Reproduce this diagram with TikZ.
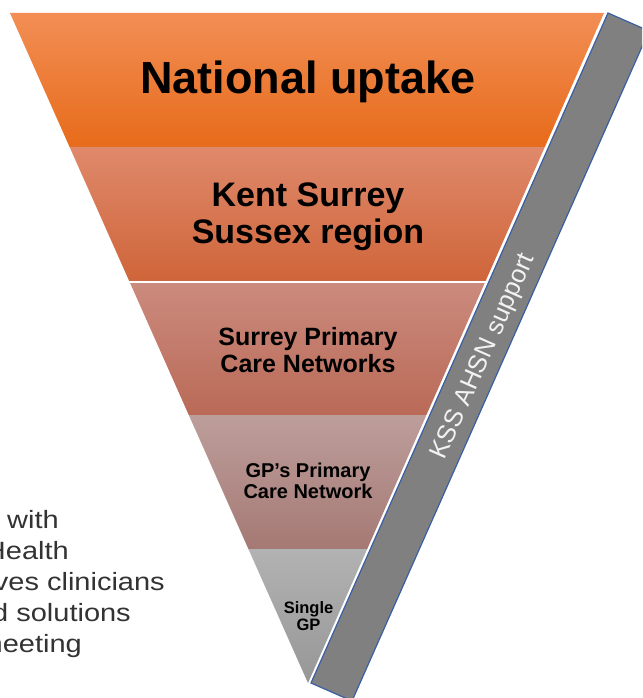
\documentclass[tikz,border=0pt]{standalone}
\usepackage{fontspec}
\setmainfont{Liberation Sans}
\usetikzlibrary{calc}
\definecolor{bOneT}{HTML}{F28E55}
\definecolor{bOneB}{HTML}{E76B1A}
\definecolor{bTwoT}{HTML}{DF896B}
\definecolor{bTwoB}{HTML}{CF653A}
\definecolor{bThrT}{HTML}{CB8B7E}
\definecolor{bThrB}{HTML}{BA6A57}
\definecolor{bFouT}{HTML}{BD9E9B}
\definecolor{bFouB}{HTML}{A57974}
\definecolor{bFivT}{HTML}{B2B2B2}
\definecolor{bFivB}{HTML}{979797}
\definecolor{barfill}{HTML}{808080}
\definecolor{barline}{HTML}{3A5FA2}
\definecolor{sidetext}{HTML}{333333}
\tikzset{
  lvl/.style={font=\bfseries, text=black, align=center, inner sep=0pt},
  sidetxt/.style={anchor=base east, inner sep=0pt, text=sidetext, font=\fontsize{25}{30}\selectfont},
}
\newcommand{\sidewide}[1]{\scalebox{1.16}[1]{#1}}
\begin{document}
\begin{tikzpicture}[x=1pt,y=-1pt]
\clip (0,0) rectangle (642,698);
\fill[white] (0,0) rectangle (642,698);
\coordinate (TL) at (10,13);
\coordinate (TR) at (604,13);
\coordinate (TIP) at (308,683);
\foreach \i/\t in {1/0.2,2/0.4,3/0.6,4/0.8}{
  \coordinate (L\i) at ($(TL)!\t!(TIP)$);
  \coordinate (R\i) at ($(TR)!\t!(TIP)$);
}
% bands
\shade[top color=bOneT, bottom color=bOneB] (TL) -- (TR) -- (R1) -- (L1) -- cycle;
\shade[top color=bTwoT, bottom color=bTwoB] (L1) -- (R1) -- (R2) -- (L2) -- cycle;
\shade[top color=bThrT, bottom color=bThrB] (L2) -- (R2) -- (R3) -- (L3) -- cycle;
\shade[top color=bFouT, bottom color=bFouB] (L3) -- (R3) -- (R4) -- (L4) -- cycle;
\shade[top color=bFivT, bottom color=bFivB] (L4) -- (R4) -- (TIP) -- cycle;
\draw[white, line width=2.2pt] ($(L2)+(-3,1)$) -- ($(R2)+(3,1)$);
% support bar
\coordinate (B1) at (608,13);
\coordinate (B2) at (649,31);
\coordinate (B3) at (352,701);
\coordinate (B4) at (311,683);
\filldraw[fill=barfill, draw=barline, line width=1.2pt, line join=miter] (B1) -- (B2) -- (B3) -- (B4) -- cycle;
\node[inner sep=0pt, text=white!95!black, rotate=66.1, font=\fontsize{25.5}{28}\selectfont] (kss) at (484,357) {KSS AHSN support};
% level labels (base = baseline of last line)
\node[lvl, anchor=base, font=\bfseries\fontsize{45}{50}\selectfont] (nat) at (308,94) {National uptake};
\node[lvl, anchor=base, font=\bfseries\fontsize{34}{37}\selectfont] (kent) at (308,243) {Kent Surrey\\Sussex region};
\node[lvl, anchor=base, font=\bfseries\fontsize{25}{27}\selectfont] (pcns) at (308,372) {Surrey Primary\\Care Networks};
\node[lvl, anchor=base, font=\bfseries\fontsize{20}{21}\selectfont] (pcn) at (308,498) {GP’s Primary\\Care Network};
\node[lvl, anchor=base, font=\bfseries\fontsize{16.5}{17}\selectfont] (gp) at (308.5,630) {Single\\GP};
% cropped side text
\node[sidetxt] (s1) at (59,528) {\sidewide{y with}};
\node[sidetxt] (s2) at (69,559) {\sidewide{Health}};
\node[sidetxt] (s3) at (165,590) {\sidewide{ves clinicians}};
\node[sidetxt] (s4) at (131,621) {\sidewide{d solutions}};
\node[sidetxt] (s5) at (82,652) {\sidewide{neeting}};
\end{tikzpicture}
\end{document}
